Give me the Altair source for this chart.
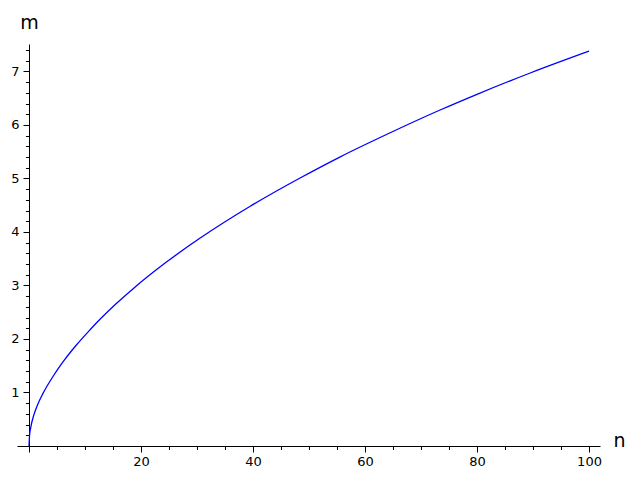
import altair as alt
import pandas as pd

# values
n_vals = [0, 0.1, 0.3, 0.77, 1.5, 2.56, 4.34, 6.13, 8.5, 10.9, 12.68, 15.5, 18.6,
          24.6, 30.5, 39.5, 48.4, 55.5, 64.5, 73.4, 80, 89.5, 100]
m_vals = [0, 0.196, 0.34, 0.548, 0.762, 0.995, 1.308, 1.580, 1.892, 2.172, 2.368, 2.654, 2.941,
          3.442, 3.882, 4.481, 5.009, 5.401, 5.855, 6.280, 6.574, 6.972, 7.38]

x_ticks = list(range(0, 101, 5))
y_ticks = [round(0.2 * i, 1) for i in range(0, 38)]

df = pd.DataFrame({"n": n_vals, "m": m_vals})

FONT = "DejaVu Sans"

x_axis = alt.Axis(
    values=x_ticks,
    title="n",
    titleAngle=0,
    titleX=596,
    titleY=0.5,
    titleAlign="left",
    titleBaseline="alphabetic",
    titleFont=FONT,
    titleFontSize=19,
    titleFontWeight="normal",
    titleColor="black",
    format="d",
    labelExpr="datum.value % 20 === 0 && datum.value > 0 ? datum.label : ''",
    labelFont=FONT,
    labelFontSize=13,
    labelColor="black",
    labelPadding=3,
    labelOverlap=False,
    labelFlush=False,
    tickSize={"condition": {"test": "datum.value % 20 === 0", "value": 6}, "value": 3.5},
    tickColor="black",
    tickWidth=1,
    domainColor="black",
    domainWidth=1,
    grid=False,
)

y_axis = alt.Axis(
    values=y_ticks,
    title="m",
    titleAngle=0,
    titleX=0,
    titleY=-16,
    titleAlign="center",
    titleBaseline="alphabetic",
    titleFont=FONT,
    titleFontSize=19,
    titleFontWeight="normal",
    titleColor="black",
    labelExpr="abs(datum.value - round(datum.value)) < 0.001 && datum.value > 0 ? format(datum.value, 'd') : ''",
    labelFont=FONT,
    labelFontSize=13,
    labelColor="black",
    labelPadding=4,
    labelOverlap=False,
    labelFlush=False,
    tickSize={"condition": {"test": "abs(datum.value - round(datum.value)) < 0.001", "value": 6}, "value": 3.5},
    tickColor="black",
    tickWidth=1,
    domainColor="black",
    domainWidth=1,
    grid=False,
    offset=-12,
)

chart = (
    alt.Chart(df)
    .mark_line(color="#0000ff", strokeWidth=1.3, interpolate="monotone")
    .encode(
        x=alt.X("n:Q", scale=alt.Scale(domain=[-2.143, 101.96], nice=False, zero=False), axis=x_axis),
        y=alt.Y("m:Q", scale=alt.Scale(domain=[0, 7.514], nice=False, zero=False), axis=y_axis),
    )
    .properties(
        width=583,
        height=402,
        padding={"left": 9, "top": 36, "right": 26, "bottom": 25},
        autosize=alt.AutoSizeParams(type="none"),
        background="white",
    )
    .configure_view(stroke=None)
)

chart.save("out.html", embed_options={"renderer": "svg", "actions": False})
